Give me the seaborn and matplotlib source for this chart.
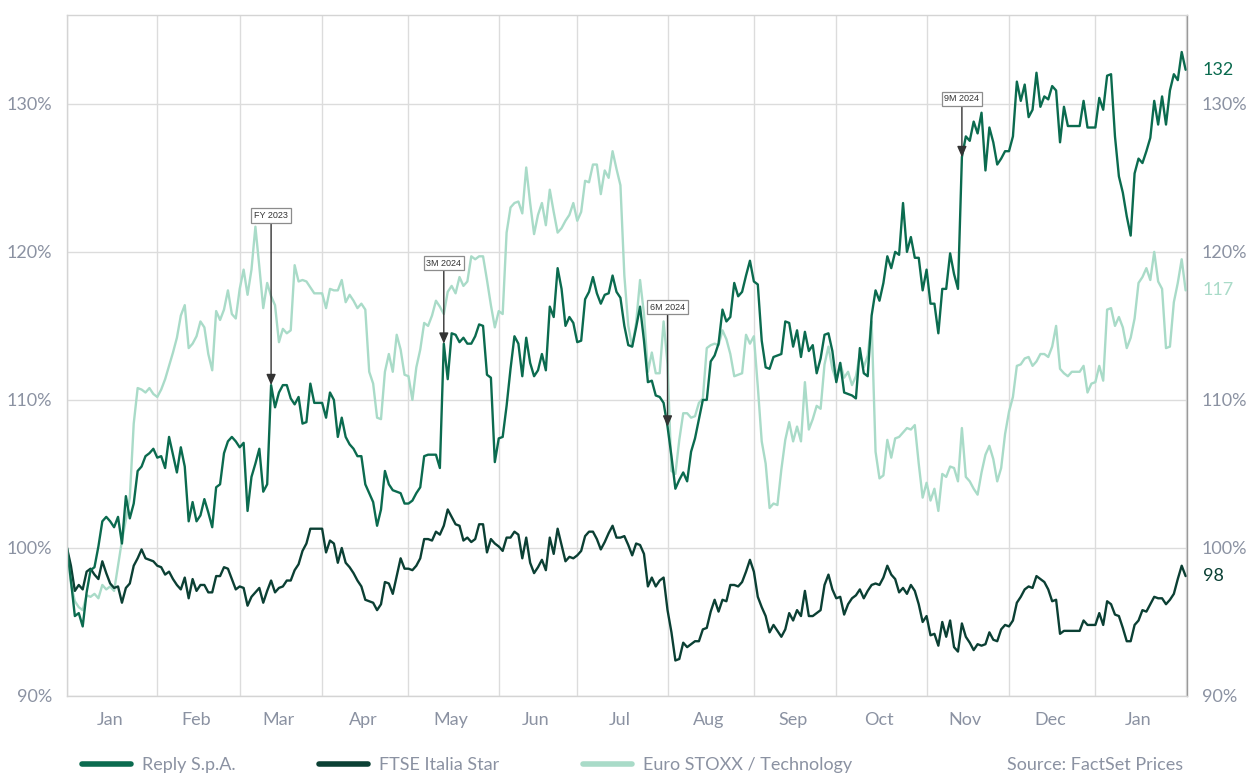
import numpy as np
import pandas as pd
import matplotlib
matplotlib.use("Agg")
import matplotlib.pyplot as plt
from matplotlib.lines import Line2D
import seaborn as sns

# Daily prices rebased to 100 on the first trading day of 2024
reply = [
    100.0, 97.8, 95.4, 95.6, 94.7, 97.0, 98.5, 98.7, 100.1, 101.8,
    102.1, 101.8, 101.4, 102.1, 100.3, 103.5, 102.0, 103.0, 105.2, 105.5,
    106.2, 106.4, 106.7, 106.1, 106.2, 105.4, 107.5, 106.3, 105.1, 106.8,
    105.5, 101.8, 103.1, 101.8, 102.2, 103.3, 102.4, 101.4, 104.1, 104.3,
    106.4, 107.2, 107.5, 107.2, 106.8, 107.1, 102.5, 104.8, 105.7, 106.7,
    103.8, 104.3, 111.0, 109.5, 110.5, 111.0, 111.0, 110.1, 109.7, 110.2,
    108.4, 108.5, 111.1, 109.8, 109.8, 109.8, 108.8, 110.5, 110.0, 107.5,
    108.8, 107.5, 107.0, 106.7, 106.2, 106.2, 104.3, 103.7, 103.1, 101.5,
    102.6, 105.2, 104.3, 103.9, 103.8, 103.7, 103.0, 103.0, 103.2, 103.7,
    104.1, 106.2, 106.3, 106.3, 106.3, 105.4, 113.8, 111.4, 114.5, 114.4,
    113.9, 114.2, 113.8, 113.8, 114.3, 115.1, 115.0, 111.7, 111.5, 105.8,
    107.4, 107.5, 109.6, 112.1, 114.3, 113.8, 111.6, 114.2, 112.5, 111.6,
    112.0, 113.1, 112.0, 116.3, 115.6, 118.9, 117.5, 115.0, 115.6, 115.2,
    113.9, 114.0, 116.8, 117.3, 118.3, 117.2, 116.5, 117.1, 117.2, 118.4,
    117.3, 116.9, 115.0, 113.7, 113.6, 114.9, 116.3, 114.0, 111.2, 111.3,
    110.3, 110.2, 109.8, 108.2, 106.2, 104.0, 104.6, 105.1, 104.5, 106.5,
    107.4, 108.7, 110.0, 110.0, 112.6, 113.0, 113.8, 116.1, 115.3, 115.6,
    117.9, 117.0, 117.3, 118.4, 119.4, 118.0, 117.8, 114.0, 112.2, 112.1,
    112.9, 113.0, 113.1, 115.3, 115.2, 113.6, 114.7, 112.9, 114.6, 113.3,
    113.7, 111.8, 112.8, 114.4, 114.5, 113.3, 111.2, 112.5, 110.5, 110.4,
    110.3, 110.1, 113.5, 111.8, 111.6, 115.7, 117.4, 116.7, 117.9, 119.7,
    118.9, 120.0, 119.8, 123.3, 120.0, 121.0, 119.6, 119.6, 117.4, 118.8,
    116.5, 116.5, 114.5, 117.5, 117.5, 119.9, 118.5, 117.5, 126.4, 127.8,
    127.5, 128.8, 128.0, 129.4, 125.5, 128.4, 127.4, 125.9, 126.3, 126.8,
    126.8, 127.8, 131.5, 130.2, 131.3, 129.1, 129.6, 132.1, 129.8, 130.5,
    130.3, 131.2, 130.9, 127.4, 129.8, 128.5, 128.5, 128.5, 128.5, 130.2,
    128.4, 128.4, 128.4, 130.4, 129.6, 131.9, 132.0, 127.8, 125.1, 124.0,
    122.4, 121.1, 125.3, 126.3, 126.0, 126.8, 127.7, 130.2, 128.6, 130.5,
    128.6, 130.9, 132.0, 131.6, 133.5, 132.3,
]

ftse_star = [
    100.0, 98.8, 97.1, 97.5, 97.2, 98.4, 98.6, 98.2, 97.9, 99.1,
    98.3, 97.6, 97.3, 97.4, 96.3, 97.3, 97.6, 98.8, 99.3, 99.9,
    99.3, 99.2, 99.1, 98.8, 98.7, 98.2, 98.4, 97.9, 97.5, 97.2,
    98.0, 96.6, 97.9, 97.1, 97.5, 97.5, 97.0, 97.0, 98.1, 98.1,
    98.7, 98.6, 97.9, 97.2, 97.4, 97.3, 96.1, 96.7, 97.0, 97.3,
    96.3, 97.1, 97.8, 97.0, 97.3, 97.4, 97.8, 97.8, 98.5, 98.9,
    99.8, 100.3, 101.3, 101.3, 101.3, 101.3, 99.7, 100.5, 100.3, 99.0,
    100.0, 99.0, 98.7, 98.3, 97.8, 97.4, 96.5, 96.4, 96.3, 95.8,
    96.2, 97.7, 97.6, 96.9, 98.1, 99.3, 98.6, 98.6, 98.5, 98.8,
    99.3, 100.6, 100.6, 100.5, 101.1, 100.9, 101.5, 102.6, 102.1, 101.6,
    101.5, 100.5, 100.7, 100.4, 100.6, 101.6, 101.6, 99.7, 100.6, 100.3,
    100.1, 99.8, 100.7, 100.7, 101.1, 100.9, 99.3, 100.7, 99.0, 98.3,
    98.7, 99.2, 98.5, 100.7, 99.6, 101.3, 100.2, 99.1, 99.4, 99.3,
    99.5, 99.8, 100.8, 101.1, 101.1, 100.6, 99.9, 100.4, 101.0, 101.5,
    100.7, 100.7, 100.8, 100.2, 99.5, 100.3, 100.2, 99.6, 97.4, 98.0,
    97.4, 97.8, 98.0, 95.8, 94.3, 92.4, 92.5, 93.6, 93.3, 93.5,
    93.7, 93.7, 94.5, 94.6, 95.7, 96.5, 95.7, 96.5, 96.4, 97.5,
    97.5, 97.4, 97.7, 98.4, 99.2, 98.4, 96.7, 96.0, 95.4, 94.3,
    94.8, 94.4, 94.0, 94.5, 95.6, 95.1, 95.8, 95.4, 97.1, 95.4,
    95.4, 95.6, 95.8, 97.5, 98.2, 97.2, 96.6, 96.7, 95.5, 96.2,
    96.6, 96.8, 97.2, 96.6, 97.1, 97.5, 97.6, 97.5, 98.0, 98.8,
    98.2, 97.9, 97.0, 97.3, 96.9, 97.5, 97.1, 96.2, 95.0, 95.4,
    94.1, 94.2, 93.4, 95.0, 94.0, 95.1, 93.3, 93.0, 94.9, 94.0,
    93.6, 93.1, 93.5, 93.4, 93.5, 94.3, 93.8, 93.7, 94.5, 94.8,
    94.7, 95.1, 96.3, 96.7, 97.2, 97.4, 97.3, 98.1, 97.9, 97.7,
    97.2, 96.4, 96.5, 94.2, 94.4, 94.4, 94.4, 94.4, 94.4, 95.1,
    94.8, 94.8, 94.8, 95.6, 94.8, 96.4, 96.2, 95.5, 95.4, 94.6,
    93.7, 93.7, 94.8, 95.1, 95.8, 95.7, 96.2, 96.7, 96.6, 96.6,
    96.2, 96.5, 96.9, 97.9, 98.8, 98.1,
]

stoxx_tech = [
    100.0, 97.6, 96.4, 96.0, 95.8, 96.8, 96.7, 96.9, 96.6, 97.5,
    97.2, 97.4, 97.1, 98.8, 100.5, 101.9, 103.4, 108.4, 110.8, 110.7,
    110.5, 110.8, 110.4, 110.2, 110.7, 111.4, 112.3, 113.2, 114.2, 115.7,
    116.4, 113.5, 113.8, 114.3, 115.3, 114.9, 113.1, 112.0, 116.0, 115.4,
    116.1, 117.4, 115.8, 115.5, 117.5, 118.8, 117.1, 118.8, 121.7, 119.0,
    116.2, 117.9, 117.0, 116.4, 113.9, 114.8, 114.5, 114.7, 119.1, 118.0,
    118.1, 118.0, 117.6, 117.2, 117.2, 117.2, 116.2, 117.5, 117.4, 117.4,
    118.1, 116.6, 117.1, 116.7, 116.2, 116.5, 116.1, 111.9, 111.1, 108.8,
    108.7, 111.9, 113.1, 111.9, 114.4, 113.4, 111.7, 111.6, 110.0, 112.2,
    113.4, 115.2, 115.0, 115.7, 116.7, 116.3, 115.8, 117.3, 117.7, 117.2,
    118.3, 117.7, 118.0, 119.7, 119.5, 119.7, 119.7, 118.1, 116.4, 114.9,
    116.0, 115.8, 121.3, 123.0, 123.3, 123.4, 122.6, 125.7, 123.3, 121.2,
    122.5, 123.3, 121.8, 124.2, 122.7, 121.3, 121.6, 122.1, 122.5, 123.3,
    122.1, 122.7, 124.8, 124.7, 125.9, 125.9, 123.9, 125.5, 125.0, 126.8,
    125.6, 124.5, 118.4, 115.0, 113.6, 115.2, 118.1, 115.8, 111.9, 113.2,
    111.8, 111.8, 115.3, 112.4, 105.2, 105.0, 107.3, 109.1, 109.1, 108.8,
    108.9, 109.8, 110.1, 113.5, 113.7, 113.8, 113.7, 114.7, 114.1, 113.1,
    111.6, 111.7, 111.8, 114.4, 113.8, 114.3, 110.9, 107.2, 105.7, 102.7,
    103.0, 102.9, 105.3, 107.3, 108.5, 107.2, 108.2, 107.2, 111.2, 108.0,
    108.7, 109.6, 109.4, 112.4, 113.6, 112.1, 111.3, 112.5, 111.5, 111.9,
    111.0, 111.6, 113.1, 112.2, 113.0, 115.3, 106.5, 104.7, 104.9, 107.3,
    106.1, 107.4, 107.5, 107.8, 108.1, 108.0, 108.3, 105.7, 103.4, 104.4,
    103.2, 104.0, 102.5, 105.0, 104.8, 105.5, 105.4, 104.5, 108.1, 104.8,
    104.5, 104.0, 103.6, 105.1, 106.3, 106.9, 106.0, 104.5, 105.4, 107.7,
    109.2, 110.2, 112.3, 112.4, 112.8, 112.9, 112.3, 112.6, 113.1, 113.1,
    112.9, 113.6, 115.0, 112.1, 111.8, 111.6, 111.9, 111.9, 111.9, 112.3,
    110.5, 111.1, 111.2, 112.3, 111.3, 116.1, 116.2, 115.0, 115.6, 114.9,
    113.5, 114.2, 115.5, 117.9, 118.3, 118.9, 118.1, 120.0, 118.0, 117.5,
    113.5, 113.6, 116.6, 117.9, 119.5, 117.4,
]

series_names = ["Reply S.p.A.", "FTSE Italia Star", "Euro STOXX / Technology"]
series_colors = ["#0b6b4f", "#0b4034", "#a9dbc8"]

# results releases marked on the Reply line
event_dates = ["2024-03-13", "2024-05-14", "2024-08-01", "2024-11-14"]
event_labels = ["FY 2023", "3M 2024", "6M 2024", "9M 2024"]
event_heights = [122, 58, 86, 42]  # label height above the line (points)

y_ticks = [90, 100, 110, 120, 130]
source_note = "Source: FactSet Prices"

assert len(reply) == len(ftse_star) == len(stoxx_tech)

days = pd.bdate_range("2024-01-01", periods=len(reply))
pos = np.arange(len(days))
df = pd.DataFrame({
    "day": np.tile(pos, 3),
    "value": reply + ftse_star + stoxx_tech,
    "series": np.repeat(series_names, len(days)),
})

grey = "#8b92a2"
sns.set_theme(style="white")
plt.rcParams["font.family"] = ["Lato", "DejaVu Sans"]

fig = plt.figure(figsize=(12.46, 7.74), dpi=100)
ax = fig.add_axes([67 / 1246, 78 / 774, 1120 / 1246, 681 / 774])

# light series first so Reply sits on top
for name, col in list(zip(series_names, series_colors))[::-1]:
    sns.lineplot(data=df[df["series"] == name], x="day", y="value",
                 color=col, linewidth=1.7, errorbar=None, ax=ax)

# month grid (first trading day of each month) and centred month names
month_start = [i for i in range(len(days)) if i == 0 or days[i].month != days[i - 1].month]
month_mid = [(a + b) / 2 - 0.6 for a, b in zip(month_start[:-1], month_start[1:])]
month_names = [days[i].strftime("%b") for i in month_start[:-1]]

ax.set_xlim(0, len(days) - 0.65)
ax.set_ylim(90, 136)
ax.set_xticks(month_start)
ax.set_xticklabels([])
ax.set_xticks(month_mid, minor=True)
ax.set_xticklabels(month_names, minor=True)
ax.set_yticks(y_ticks)
ax.set_yticklabels([f"{v}%" for v in y_ticks])
ax.set_xlabel("")
ax.set_ylabel("")

ax.grid(True, which="major", color="#dcdcdc", linewidth=1)
ax.tick_params(axis="both", which="both", length=0, labelsize=13, labelcolor=grey)
ax.tick_params(axis="x", which="minor", pad=11.5)
ax.tick_params(axis="y", pad=10.5, labelright=True)
for side in ["left", "top", "bottom"]:
    ax.spines[side].set_color("#d4d4d4")
    ax.spines[side].set_linewidth(1)
ax.spines["right"].set_color("#9a9a9a")
ax.spines["right"].set_linewidth(1)

# last values at the right edge
for vals, col in zip([reply, ftse_star, stoxx_tech], series_colors):
    ax.annotate(f"{vals[-1]:.0f}", xy=(pos[-1], vals[-1]), xytext=(12.5, 0),
                textcoords="offset points", va="center", ha="left",
                fontsize=13, color=col, annotation_clip=False)

# results markers
for d, lab, h in zip(event_dates, event_labels, event_heights):
    i = days.get_loc(pd.Timestamp(d))
    ax.annotate(lab, xy=(i, reply[i]), xytext=(0, h), textcoords="offset points",
                ha="center", va="center", fontsize=6.5, family="Liberation Sans",
                color="#333333",
                bbox=dict(boxstyle="square,pad=0.3", fc="white", ec="#8c8c8c", lw=0.9),
                arrowprops=dict(arrowstyle="-|>,head_length=0.8,head_width=0.35",
                                mutation_scale=8, color="#333333", lw=1,
                                shrinkA=0, shrinkB=0),
                zorder=5)

handles = [Line2D([0], [0], color=c, lw=4, solid_capstyle="round") for c in series_colors]
fig.legend(handles, series_names, loc="center left",
           bbox_to_anchor=(82 / 1246, 1 - 765 / 774), ncol=3, frameon=False,
           fontsize=13, labelcolor=grey, handlelength=2.7, handletextpad=0.6,
           columnspacing=4.65, borderpad=0, borderaxespad=0)
fig.text(1183 / 1246, 1 - 765 / 774, source_note, ha="right", va="center",
         fontsize=13, color=grey)

fig.savefig("out.png", dpi=100)
